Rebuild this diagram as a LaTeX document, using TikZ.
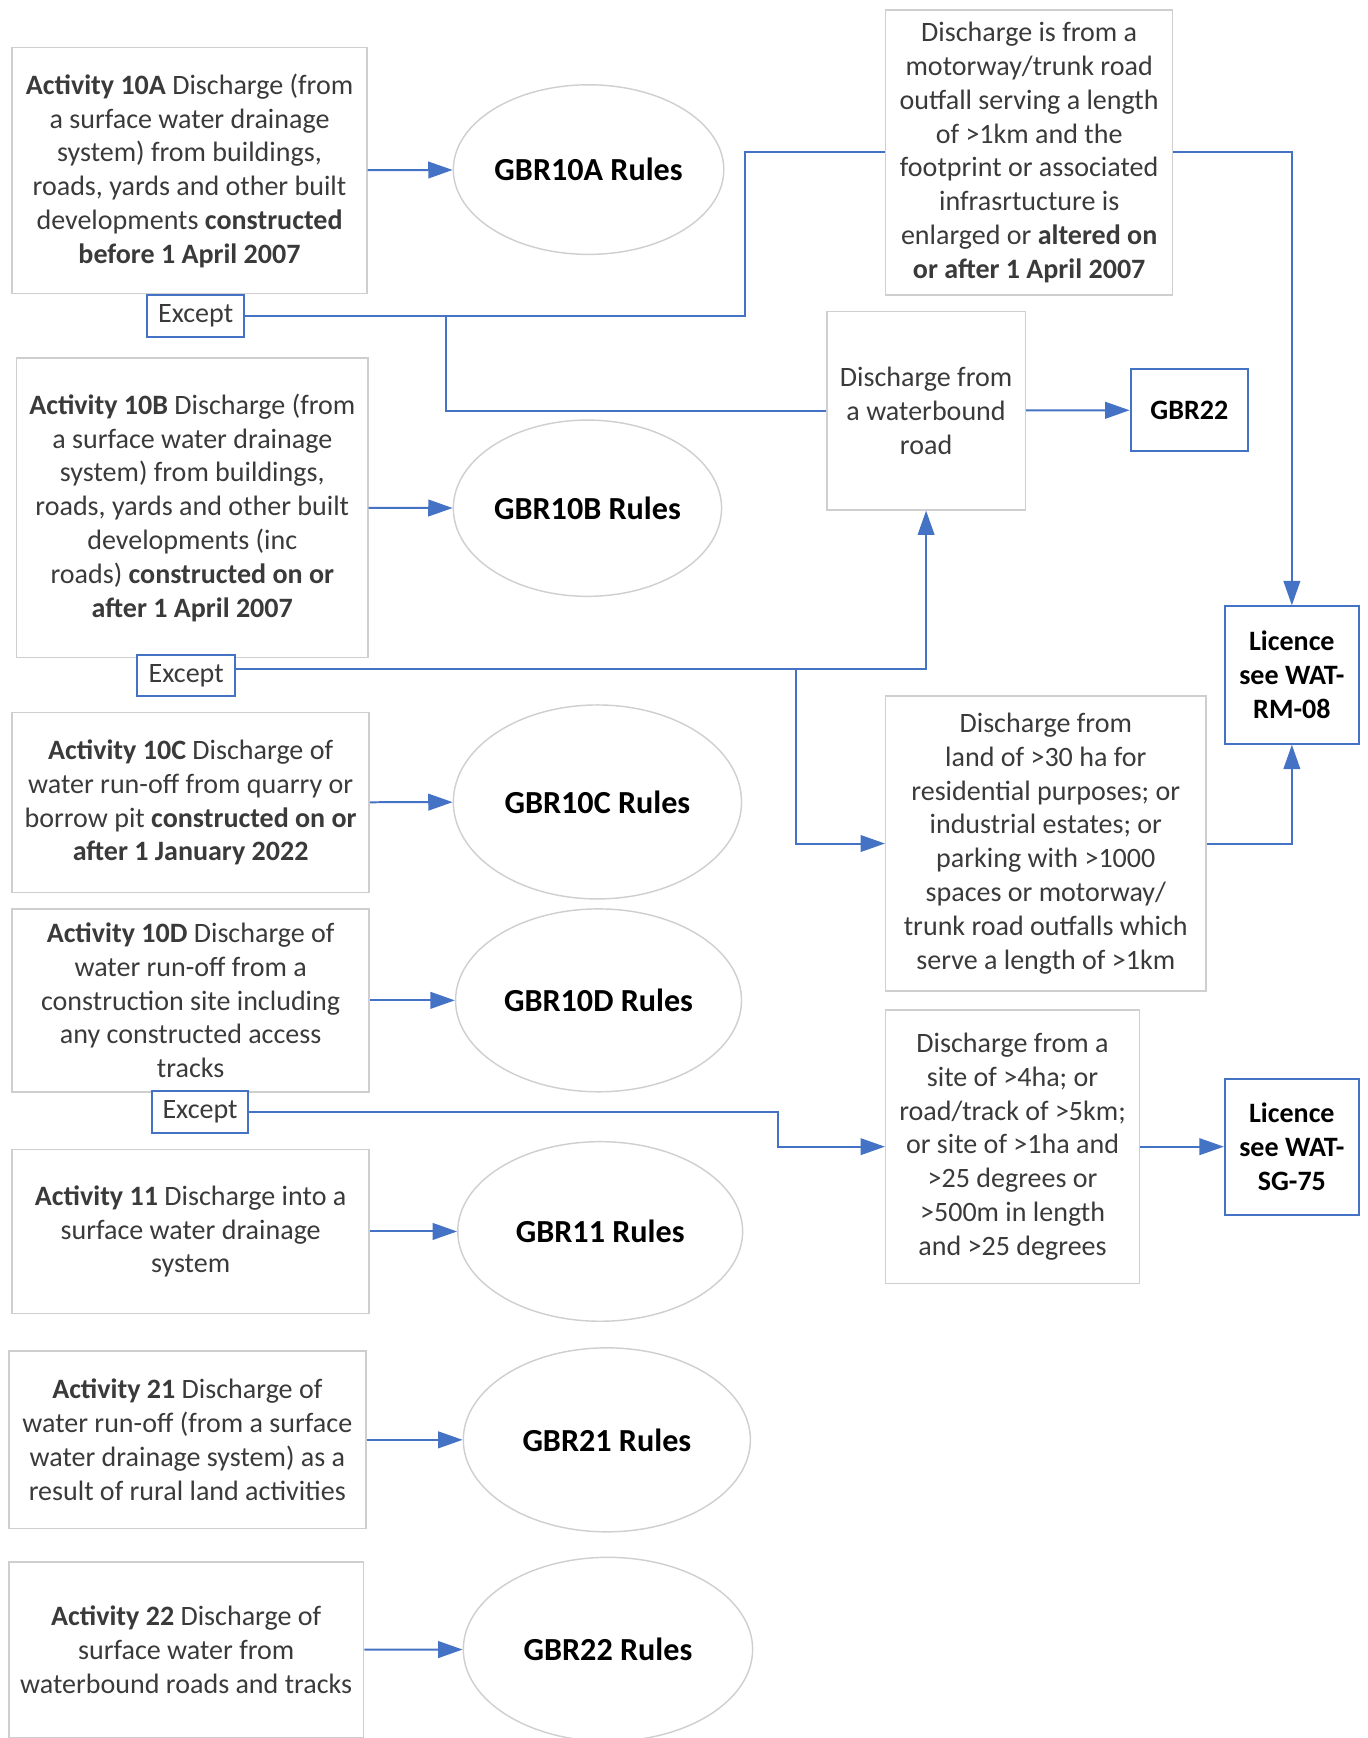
\documentclass[tikz,border=0pt]{standalone}
\usepackage{fontspec}
\setmainfont{Carlito}
\usepackage{tikz}
\usetikzlibrary{shapes.geometric,arrows.meta}
\definecolor{linkblue}{HTML}{4472C4}
\definecolor{boxgray}{HTML}{CFCFCF}
\definecolor{textgray}{HTML}{3A3A3A}

\begin{document}
\begin{tikzpicture}[x=1pt,y=-1pt,
    every node/.style={align=center,inner sep=0pt,text=textgray,font=\fontsize{25.3}{30.5}\selectfont},
    box/.style={draw=boxgray,line width=1.3pt},
    rule/.style={ellipse,draw=boxgray,line width=1.3pt,text=black,font=\fontsize{29}{34}\selectfont\bfseries},
    bluebox/.style={draw=linkblue,line width=1.8pt,fill=white},
    bold/.style={text=black,font=\fontsize{25.3}{30.5}\selectfont\bfseries},
    link/.style={draw=linkblue,line width=1.8pt},
    arr/.style={link,-{Triangle[length=22pt,width=15pt]}}]
\useasboundingbox (0,0) rectangle (1234,1568);

\node[box,minimum width=320pt,minimum height=222pt] (aA) at (171,154)
    {\textbf{Activity 10A} Discharge (from\\ a surface water drainage\\ system) from buildings,\\ roads, yards and other built\\ developments \textbf{constructed}\\ \textbf{before 1 April 2007}};
\node[box,minimum width=317pt,minimum height=270pt] (aB) at (173.5,458)
    {\textbf{Activity 10B} Discharge (from\\ a surface water drainage\\ system) from buildings,\\ roads, yards and other built\\ developments (inc\\ roads) \textbf{constructed on or}\\ \textbf{after 1 April 2007}};
\node[box,minimum width=322pt,minimum height=162pt] (aC) at (172,724)
    {\textbf{Activity 10C} Discharge of\\ water run-off from quarry or\\ borrow pit \textbf{constructed on or}\\ \textbf{after 1 January 2022}};
\node[box,minimum width=322pt,minimum height=165pt] (aD) at (172,902.5)
    {\textbf{Activity 10D} Discharge of\\ water run-off from a\\ construction site including\\ any constructed access\\ tracks};
\node[box,minimum width=322pt,minimum height=148pt] (aE) at (172,1111)
    {\textbf{Activity 11} Discharge into a\\ surface water drainage\\ system};
\node[box,minimum width=322pt,minimum height=160pt] (aF) at (169,1299)
    {\textbf{Activity 21} Discharge of\\ water run-off (from a surface\\ water drainage system) as a\\ result of rural land activities};
\node[box,minimum width=320pt,minimum height=159pt] (aG) at (168,1488.5)
    {\textbf{Activity 22} Discharge of\\ surface water from\\ waterbound roads and tracks};

\node[rule,minimum width=244pt,minimum height=153pt] (rA) at (531,153) {GBR10A Rules};
\node[rule,minimum width=242pt,minimum height=159pt] (rB) at (530,458.5) {GBR10B Rules};
\node[rule,minimum width=260pt,minimum height=175pt] (rC) at (539,723.5) {GBR10C Rules};
\node[rule,minimum width=258pt,minimum height=165pt] (rD) at (540,902.5) {GBR10D Rules};
\node[rule,minimum width=257pt,minimum height=162pt] (rE) at (541.5,1111) {GBR11 Rules};
\node[rule,minimum width=259pt,minimum height=166pt] (rF) at (547.5,1299) {GBR21 Rules};
\node[rule,minimum width=261pt,minimum height=166pt] (rG) at (548.5,1488) {GBR22 Rules};

\node[box,minimum width=259pt,minimum height=257pt] (cA) at (928.5,137.5)
    {Discharge is from a\\ motorway/trunk road\\ outfall serving a length\\ of >1km and the\\ footprint or associated\\ infrasrtucture is\\ enlarged or \textbf{altered on}\\ \textbf{or after 1 April 2007}};
\node[box,minimum width=179pt,minimum height=179pt] (cB) at (835.5,370.5)
    {Discharge from\\ a waterbound\\ road};
\node[box,minimum width=289pt,minimum height=266pt] (cC) at (943.5,761)
    {Discharge from\\ land of >30 ha for\\ residential purposes; or\\ industrial estates; or\\ parking with >1000\\ spaces or motorway/\\ trunk road outfalls which\\ serve a length of >1km};
\node[box,minimum width=229pt,minimum height=247pt] (cD) at (913.5,1034.5)
    {Discharge from a\\ site of >4ha; or\\ road/track of >5km;\\ or site of >1ha and\\ >25 degrees or\\ >500m in length\\ and >25 degrees};

\node[bluebox,bold,minimum width=106pt,minimum height=74pt] (gA) at (1073,370) {GBR22};
\node[bluebox,bold,minimum width=121pt,minimum height=124pt] (lA) at (1165.5,609) {Licence\\ see WAT-\\ RM-08};
\node[bluebox,bold,minimum width=121pt,minimum height=123pt] (lB) at (1165.5,1034.5) {Licence\\ see WAT-\\ SG-75};

\node[bluebox,minimum width=87pt,minimum height=38pt] (eA) at (176.5,285) {Except};
\node[bluebox,minimum width=88pt,minimum height=37pt] (eB) at (168,609.5) {Except};
\node[bluebox,minimum width=87pt,minimum height=38pt] (eC) at (180.5,1003) {Except};

\coordinate (jA) at (402,285);
\coordinate (jB) at (718,604);

\draw[arr] (aA) -- (rA);
\draw[arr] (aB) -- (rB);
\draw[arr] (aC) -- (rC);
\draw[arr] (aD) -- (rD);
\draw[arr] (aE) -- (rE);
\draw[arr] (aF) -- (rF);
\draw[arr] (aG) -- (rG);

\draw[link] (eA) -- (672,285) |- (cA);
\draw[link] (jA) |- (cB);
\draw[arr] (cA) -| (lA);
\draw[arr] (cB) -- (gA);
\draw[arr] ([yshift=5.5pt]eB.east) -| (cB);
\draw[arr] (jB) |- (cC);
\draw[arr] (cC) -| (lA);
\draw[arr] (eC) -- (702,1003) |- (cD);
\draw[arr] (cD) -- (lB);
\end{tikzpicture}
\end{document}
